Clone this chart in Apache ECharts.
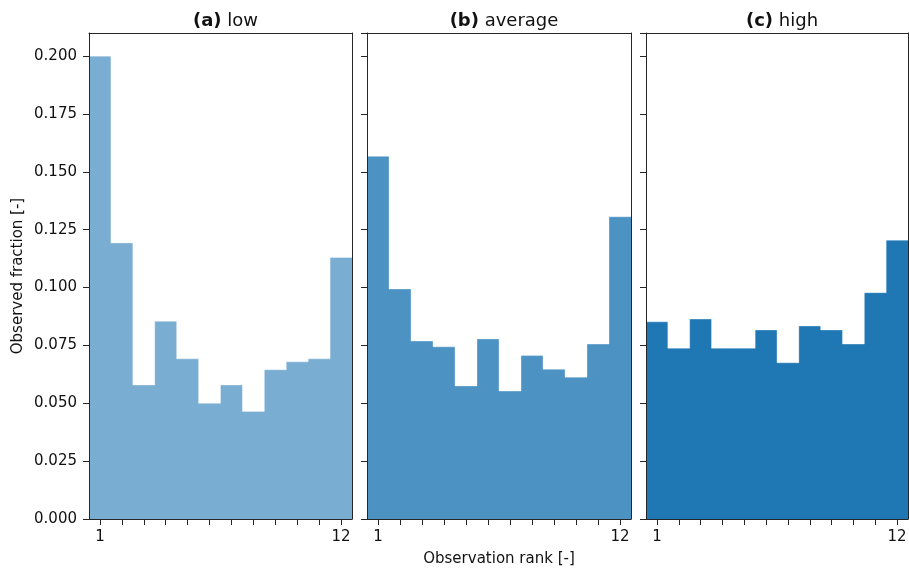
<!DOCTYPE html>
<html>
<head>
<meta charset="utf-8">
<script src="https://cdn.jsdelivr.net/npm/echarts@6/dist/echarts.min.js"></script>
<style>
  html, body { margin: 0; padding: 0; background: #fff; }
  #chart { width: 909px; height: 568px; }
</style>
</head>
<body>
<div id="chart"></div>
<script>
// observation ranks 1..12
var ranks = ['1', '2', '3', '4', '5', '6', '7', '8', '9', '10', '11', '12'];
var yTicks = [0, 0.025, 0.05, 0.075, 0.1, 0.125, 0.15, 0.175, 0.2];

// observed fraction per rank, one array per panel
var lowValues = [0.2000, 0.1193, 0.0579, 0.0854, 0.0692, 0.0500, 0.0579, 0.0465, 0.0645, 0.0679, 0.0692, 0.1130];
var averageValues = [0.1567, 0.0994, 0.0769, 0.0744, 0.0575, 0.0778, 0.0553, 0.0706, 0.0647, 0.0613, 0.0756, 0.1306];
var highValues = [0.0852, 0.0738, 0.0864, 0.0738, 0.0738, 0.0817, 0.0675, 0.0834, 0.0817, 0.0756, 0.0978, 0.1205];

var panelTags = ['(a)', '(b)', '(c)'];
var panelNames = ['low', 'average', 'high'];
var panelData = [lowValues, averageValues, highValues];
var panelColors = ['#79add2', '#4c92c3', '#1f77b4'];

var font = 'DejaVu Sans';
var axisColor = '#262626';
var grids = [
  { left: 89, top: 33, width: 263, height: 486, outerBoundsMode: 'none' },
  { left: 367, top: 33, width: 264, height: 486, outerBoundsMode: 'none' },
  { left: 646, top: 33, width: 262, height: 486, outerBoundsMode: 'none' }
];

// histogram as a filled step: each bin runs from rank-0.5 to rank+0.5
function stepData(values) {
  var pts = values.map(function (v, k) { return [k + 0.5, v]; });
  pts.push([values.length + 0.5, values[values.length - 1]]);
  return pts;
}

var chart = echarts.init(document.getElementById('chart'));

var titles = [], xAxes = [], yAxes = [], series = [];
panelNames.forEach(function (name, i) {
  titles.push({
    text: '{b|' + panelTags[i] + '} ' + name,
    left: grids[i].left + grids[i].width / 2,
    top: 7,
    textAlign: 'center',
    textStyle: {
      fontFamily: font, fontSize: 18, fontWeight: 'normal', color: '#111',
      rich: { b: { fontFamily: font, fontSize: 18, fontWeight: 'bold', color: '#111' } }
    }
  });

  xAxes.push({
    gridIndex: i,
    type: 'category',
    data: ranks,
    boundaryGap: true,
    name: i === 1 ? 'Observation rank [-]' : '',
    nameLocation: 'middle',
    nameGap: 33,
    nameTextStyle: { fontFamily: font, fontSize: 15, color: '#111' },
    axisLine: { show: true, onZero: false, lineStyle: { color: axisColor, width: 1 } },
    axisTick: { show: true, alignWithLabel: true, interval: 0, length: 6, lineStyle: { color: axisColor } },
    axisLabel: {
      interval: function (idx) { return idx === 0 || idx === ranks.length - 1; },
      margin: 11,
      fontFamily: font, fontSize: 15, color: '#111'
    },
    splitLine: { show: false },
    z: 5
  });
  // top spine
  xAxes.push({
    gridIndex: i,
    type: 'category',
    data: ranks,
    position: 'top',
    axisLine: { show: true, onZero: false, lineStyle: { color: axisColor, width: 1 } },
    axisTick: { show: false },
    axisLabel: { show: false },
    splitLine: { show: false },
    z: 5
  });
  // hidden value axis that carries the bin edges
  xAxes.push({
    gridIndex: i,
    type: 'value',
    min: 0.5,
    max: 12.5,
    show: false
  });

  yAxes.push({
    gridIndex: i,
    type: 'value',
    min: 0,
    max: 0.21,
    interval: 0.025,
    name: i === 0 ? 'Observed fraction [-]' : '',
    nameLocation: 'middle',
    nameGap: 63,
    nameTextStyle: { fontFamily: font, fontSize: 15, color: '#111' },
    axisLine: { show: true, onZero: false, lineStyle: { color: axisColor, width: 1 } },
    axisTick: { show: true, length: 6, lineStyle: { color: axisColor } },
    axisLabel: {
      show: i === 0,
      margin: 12,
      fontFamily: font, fontSize: 15, color: '#111',
      formatter: function (v) { return yTicks.indexOf(Math.round(v * 1000) / 1000) >= 0 ? v.toFixed(3) : ''; },
      showMaxLabel: false
    },
    splitLine: { show: false },
    z: 5
  });
  // right spine
  yAxes.push({
    gridIndex: i,
    type: 'value',
    min: 0,
    max: 0.21,
    position: 'right',
    axisLine: { show: true, onZero: false, lineStyle: { color: axisColor, width: 1 } },
    axisTick: { show: false },
    axisLabel: { show: false },
    splitLine: { show: false },
    z: 5
  });

  series.push({
    type: 'line',
    xAxisIndex: i * 3 + 2,
    yAxisIndex: i * 2,
    data: stepData(panelData[i]),
    step: 'end',
    symbol: 'none',
    lineStyle: { color: 'rgba(255,255,255,0.35)', width: 1 },
    areaStyle: { color: panelColors[i], opacity: 1 },
    silent: true,
    animation: false
  });
});

var option = {
  animation: false,
  backgroundColor: '#fff',
  title: titles,
  grid: grids,
  xAxis: xAxes,
  yAxis: yAxes,
  series: series
};

chart.setOption(option);
</script>
</body>
</html>
